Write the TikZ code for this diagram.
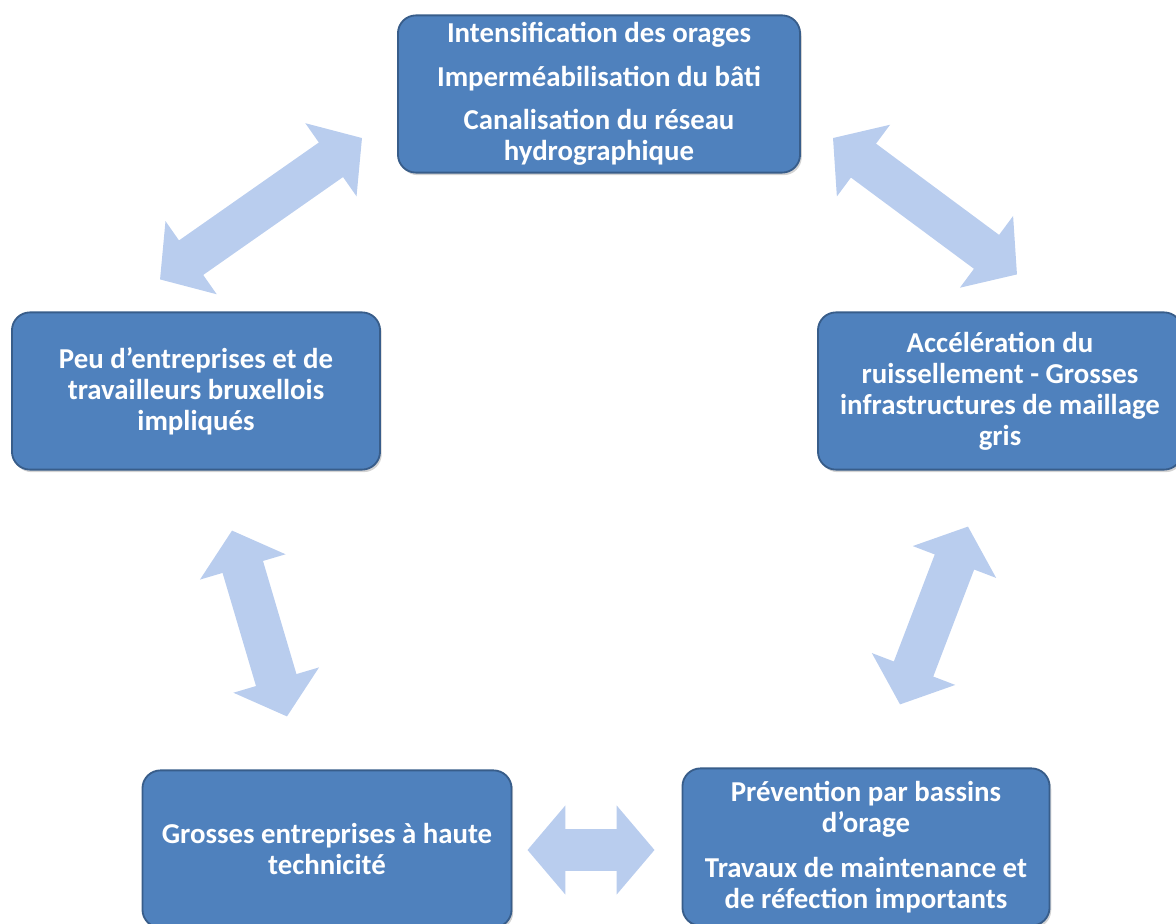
\documentclass[tikz,border=0pt]{standalone}
\usepackage{fontspec}
\setmainfont{Carlito}
\usepackage{tikz}
\usetikzlibrary{arrows.meta,shadows}

\definecolor{boxblue}{HTML}{4F81BD}
\definecolor{boxline}{HTML}{385D8A}
\definecolor{arrowblue}{HTML}{B9CDEE}

\begin{document}
\begin{tikzpicture}[x=0.025cm,y=-0.025cm,
    box/.style={draw=boxline, line width=1.3pt, fill=boxblue, rounded corners=0.45cm,
        minimum width=9.2cm, minimum height=3.93cm, align=center, text=white,
        font=\bfseries\fontsize{20.5}{22}\selectfont,
        drop shadow={shadow xshift=1.2pt, shadow yshift=-1.8pt, opacity=0.35}},
    fatarrow/.style={draw=arrowblue, line width=30pt,
        {Triangle[width=62pt,length=27pt]}-{Triangle[width=62pt,length=27pt]}}]
    \useasboundingbox (0,0) rectangle (1176,924);

    \node[box, minimum width=10.05cm] (top) at (599,94)
        {Intensification des orages\\[9pt]Imperméabilisation du bâti\\[9pt]Canalisation du réseau\\hydrographique};
    \node[box] (left) at (196,391)
        {Peu d’entreprises et de\\travailleurs bruxellois\\impliqués};
    \node[box, minimum width=9.1cm] (right) at (1000,391)
        {Accélération du\\ruissellement - Grosses\\infrastructures de maillage\\gris};
    \node[box, minimum width=9.225cm] (botleft) at (327,849)
        {Grosses entreprises à haute\\technicité};
    \node[box, minimum width=9.175cm] (botright) at (866,847)
        {Prévention par bassins\\d’orage\\[10pt]Travaux de maintenance et\\de réfection importants};

    \draw[fatarrow] ([shift={(-36,-32)}]left.north) -- ([shift={(-35,44)}]top.west);
    \draw[fatarrow] ([shift={(32,44)}]top.east) -- ([shift={(17,-37)}]right.north);
    \draw[fatarrow] ([shift={(-32,56)}]right.south) -- ([shift={(34,-63)}]botright.north);
    \draw[fatarrow] ([shift={(-27,3)}]botright.west) -- ([shift={(15,1)}]botleft.east);
    \draw[fatarrow] ([shift={(-40,-53)}]botleft.north) -- ([shift={(36,60)}]left.south);
\end{tikzpicture}
\end{document}
